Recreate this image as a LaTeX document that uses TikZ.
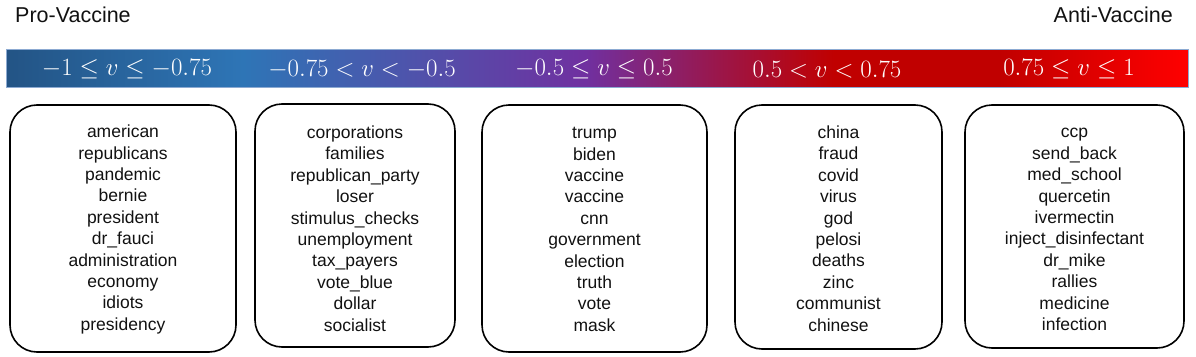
\documentclass[tikz,border=0pt]{standalone}
\usepackage[no-math]{fontspec}
\setmainfont{Liberation Sans}
\definecolor{cA}{HTML}{235485}
\definecolor{cB}{HTML}{2E75B6}
\definecolor{cC}{HTML}{7030A0}
\definecolor{cD}{HTML}{C00000}
\definecolor{cE}{HTML}{FF0000}
\definecolor{barline}{RGB}{140,170,210}
\definecolor{ink}{HTML}{111111}
\pgfdeclarehorizontalshading{vaxbar}{100bp}{color(0bp)=(cA); color(25bp)=(cA); color(35bp)=(cB); color(49.5bp)=(cC); color(60bp)=(cD); color(67bp)=(cD); color(75bp)=(cE); color(100bp)=(cE)}
\tikzset{
  title/.style={inner sep=0pt, font=\fontsize{21.5}{25}\selectfont, text=ink},
  lab/.style={inner sep=0pt, text=white, font=\fontsize{23}{27}\selectfont},
  wordbox/.style={draw=black, line width=1.6pt, rounded corners=27pt, inner sep=0pt},
  words/.style={inner sep=0pt, align=center, text=ink, font=\fontsize{17.5}{21.4}\selectfont}
}
\begin{document}
\begin{tikzpicture}[x=1pt,y=-1pt]
\useasboundingbox (0,0) rectangle (1196,356);
\node[title, anchor=base west] (pro) at (15,23) {Pro-Vaccine};
\node[title, anchor=base east] (anti) at (1173,23) {Anti-Vaccine};
\node[draw=barline, line width=0.8pt, shading=vaxbar, minimum width=1182pt, minimum height=38pt, inner sep=0pt, anchor=north west] (bar) at (6,49) {};
\node[lab] (l1) at (127,69.5) {$-1\le v\le -0.75$};
\node[lab] (l2) at (362,69.5) {$-0.75< v< -0.5$};
\node[lab] (l3) at (594,69.5) {$-0.5\le v\le 0.5$};
\node[lab] (l4) at (827,69.5) {$0.5< v< 0.75$};
\node[lab] (l5) at (1069,69.5) {$0.75\le v\le 1$};
\node[wordbox, minimum width=226pt, minimum height=247pt] (b1) at (123,228.5) {};
\node[wordbox, minimum width=200pt, minimum height=243pt] (b2) at (355,225.5) {};
\node[wordbox, minimum width=225pt, minimum height=247pt] (b3) at (594.5,228.5) {};
\node[wordbox, minimum width=207pt, minimum height=244pt] (b4) at (838.5,227) {};
\node[wordbox, minimum width=219pt, minimum height=243pt] (b5) at (1074.5,226.5) {};
\node[words] (t1) at (123,229.5) {american\\republicans\\pandemic\\bernie\\president\\dr\_fauci\\administration\\economy\\idiots\\presidency};
\node[words] (t2) at (355,228.5) {corporations\\families\\republican\_party\\loser\\stimulus\_checks\\unemployment\\tax\_payers\\vote\_blue\\dollar\\socialist};
\node[words] (t3) at (594.5,229.5) {trump\\biden\\vaccine\\vaccine\\cnn\\government\\election\\truth\\vote\\mask};
\node[words] (t4) at (838.5,228.5) {china\\fraud\\covid\\virus\\god\\pelosi\\deaths\\zinc\\communist\\chinese};
\node[words] (t5) at (1074.5,229.5) {ccp\\send\_back\\med\_school\\quercetin\\ivermectin\\inject\_disinfectant\\dr\_mike\\rallies\\medicine\\infection};
\end{tikzpicture}
\end{document}
